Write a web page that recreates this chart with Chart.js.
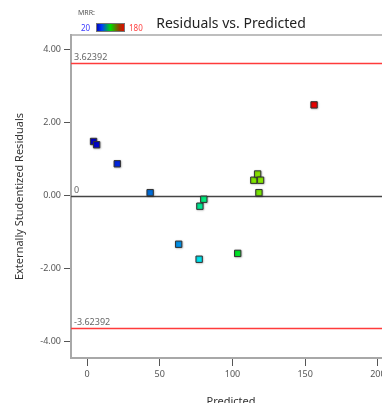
<!DOCTYPE html>
<html>
<head>
<meta charset="utf-8">
<script src="https://cdn.jsdelivr.net/npm/chart.js@4"></script>
<style>
  html, body { margin: 0; padding: 0; background: #fff; overflow: hidden; }
  #wrap { width: 410px; height: 410px; }
</style>
</head>
<body>
<div id="wrap"><canvas id="myChart" width="410" height="410"></canvas></div>
<script>
// predicted vs externally studentized residuals, one square per run
var predicted = [4.5, 6.6, 20.8, 43.4, 63.0, 77.1, 77.6, 80.3, 103.6, 114.7, 117.3, 119.3, 118.2, 156.1];
var residuals = [1.48, 1.39, 0.87, 0.08, -1.33, -1.74, -0.29, -0.10, -1.58, 0.42, 0.59, 0.42, 0.08, 2.48];
var mrr = [20, 22, 35, 55, 64, 80, 90, 93, 108, 126, 128, 127, 125, 180];

var X_TICKS = [0, 50, 100, 150, 200];
var Y_TICKS = [-4, -2, 0, 2, 4];
var LIMIT = 3.62392;

var FONT = '"Noto Sans", "Open Sans", sans-serif';

// colour ramp used for the MRR legend and the points
var STOPS = [
  [20, [0, 0, 200]],
  [40, [0, 50, 235]],
  [55, [0, 110, 220]],
  [65, [0, 150, 235]],
  [80, [0, 230, 240]],
  [92, [0, 235, 130]],
  [108, [0, 230, 40]],
  [127, [135, 232, 0]],
  [152, [150, 70, 0]],
  [180, [235, 0, 0]]
];

function rampColor(v) {
  if (v <= STOPS[0][0]) return 'rgb(' + STOPS[0][1].join(',') + ')';
  for (var i = 1; i < STOPS.length; i++) {
    if (v <= STOPS[i][0]) {
      var a = STOPS[i - 1], b = STOPS[i];
      var t = (v - a[0]) / (b[0] - a[0]);
      var c = a[1].map(function (ch, k) { return Math.round(ch + (b[1][k] - ch) * t); });
      return 'rgb(' + c.join(',') + ')';
    }
  }
  return 'rgb(' + STOPS[STOPS.length - 1][1].join(',') + ')';
}

var points = predicted.map(function (p, i) { return { x: p, y: residuals[i] }; });

var refLines = {
  id: 'refLines',
  beforeDatasetsDraw: function (chart) {
    var ctx = chart.ctx, area = chart.chartArea;
    var y = chart.scales.y;
    ctx.save();
    // frame top
    ctx.strokeStyle = '#a8a8a8';
    ctx.lineWidth = 1.5;
    ctx.beginPath();
    ctx.moveTo(area.left, area.top);
    ctx.lineTo(area.right, area.top);
    ctx.stroke();

    function hline(v, color, label) {
      var py = Math.round(y.getPixelForValue(v)) + 0.5;
      ctx.strokeStyle = color;
      ctx.lineWidth = 1.6;
      ctx.beginPath();
      ctx.moveTo(area.left, py);
      ctx.lineTo(area.right, py);
      ctx.stroke();
      ctx.fillStyle = '#666';
      ctx.font = '9px ' + FONT;
      ctx.textAlign = 'left';
      ctx.textBaseline = 'bottom';
      ctx.fillText(label, area.left + 3, py - 2);
    }
    hline(LIMIT, '#ff3b3b', LIMIT.toFixed(5));
    hline(-LIMIT, '#ff3b3b', (-LIMIT).toFixed(5));
    hline(0, '#444', '0');
    ctx.restore();

    // soft shadow under the squares
    ctx.save();
    ctx.shadowColor = 'rgba(0,0,0,0.3)';
    ctx.shadowBlur = 2;
    ctx.shadowOffsetX = 0.5;
    ctx.shadowOffsetY = 0.5;
  },
  afterDatasetsDraw: function (chart) {
    chart.ctx.restore();
  },
  afterDraw: function (chart) {
    var ctx = chart.ctx;
    ctx.save();
    ctx.fillStyle = '#222';
    ctx.font = '14px ' + FONT;
    ctx.textAlign = 'center';
    ctx.textBaseline = 'alphabetic';
    ctx.fillText('Residuals vs. Predicted', 231, 28);

    // MRR colour key
    ctx.font = '7px ' + FONT;
    ctx.fillStyle = '#555';
    ctx.textAlign = 'left';
    ctx.fillText('MRR:', 78, 15);
    ctx.font = '8px ' + FONT;
    ctx.fillStyle = '#3a3aff';
    ctx.fillText('20', 81, 31);
    ctx.fillStyle = '#ff4040';
    ctx.fillText('180', 129, 31);
    var gx = 96, gw = 29, gy = 23, gh = 9;
    var grad = ctx.createLinearGradient(gx, 0, gx + gw, 0);
    grad.addColorStop(0, 'rgb(0,0,170)');
    grad.addColorStop(0.2, 'rgb(0,60,255)');
    grad.addColorStop(0.5, 'rgb(0,220,0)');
    grad.addColorStop(0.8, 'rgb(150,60,0)');
    grad.addColorStop(1, 'rgb(240,0,0)');
    ctx.fillStyle = grad;
    ctx.fillRect(gx, gy, gw, gh);
    ctx.strokeStyle = '#777';
    ctx.lineWidth = 1;
    ctx.strokeRect(gx + 0.5, gy + 0.5, gw - 1, gh - 1);
    ctx.restore();
  }
};

const ctx = document.getElementById('myChart');
new Chart(ctx, {
  type: 'scatter',
  data: {
    datasets: [{
      data: points,
      pointStyle: 'rect',
      pointRadius: 4.5,
      pointHoverRadius: 4.5,
      borderWidth: 1,
      borderColor: '#333',
      backgroundColor: mrr.map(rampColor)
    }]
  },
  options: {
    responsive: false,
    animation: false,
    events: [],
    layout: { padding: { top: 35, right: 19, left: 0, bottom: 0 } },
    plugins: {
      legend: { display: false },
      tooltip: { enabled: false }
    },
    scales: {
      x: {
        type: 'linear',
        min: -11,
        max: 209,
        afterFit: function (s) { s.height = 52; },
        afterBuildTicks: function (s) { s.ticks = X_TICKS.map(function (v) { return { value: v }; }); },
        ticks: { color: '#555', font: { size: 9, family: FONT }, padding: 3, maxRotation: 0 },
        grid: { drawOnChartArea: false, tickLength: 8, tickColor: '#555', tickWidth: 1 },
        border: { color: '#a8a8a8', width: 2 },
        title: { display: true, text: 'Predicted', color: '#333', font: { size: 11, family: FONT }, padding: { top: 0, bottom: 2 } }
      },
      y: {
        type: 'linear',
        min: -4.44,
        max: 4.39,
        afterFit: function (s) { s.width = 71; },
        afterBuildTicks: function (s) { s.ticks = Y_TICKS.map(function (v) { return { value: v }; }); },
        ticks: {
          color: '#555',
          font: { size: 9, family: FONT },
          padding: 3,
          callback: function (v) { return v.toFixed(2); }
        },
        grid: { drawOnChartArea: false, tickLength: 7, tickColor: '#555', tickWidth: 1 },
        border: { color: '#a8a8a8', width: 2 },
        title: { display: true, text: 'Externally Studentized Residuals', color: '#333', font: { size: 11, family: FONT }, padding: { top: 13, bottom: 0 } }
      }
    }
  },
  plugins: [refLines]
});
</script>
</body>
</html>
